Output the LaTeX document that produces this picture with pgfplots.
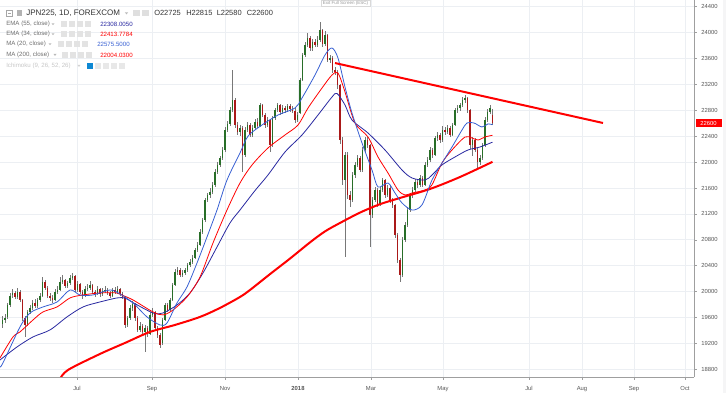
\documentclass[border=0pt]{standalone}
\usepackage{pgfplots}
\pgfplotsset{compat=1.18}
\usepackage{pgfplotstable}
\usepackage{fontspec}
\setmainfont{Liberation Sans}

\definecolor{upc}{RGB}{40,110,40}
\definecolor{dnc}{RGB}{170,25,25}
\definecolor{wickc}{RGB}{120,120,120}
\definecolor{ma20c}{RGB}{55,95,210}
\definecolor{ema55c}{RGB}{40,40,160}
\definecolor{redl}{RGB}{255,0,0}
\definecolor{gridc}{RGB}{236,239,243}
\definecolor{tickc}{RGB}{85,85,85}
\definecolor{txtc}{RGB}{51,51,51}
\definecolor{lblc}{RGB}{110,110,110}
\newcommand\tickfont{\fontsize{4.4}{5}\selectfont}
\newcommand\legfont{\fontsize{4.6}{5.5}\selectfont}
\newcommand\titfont{\fontsize{6}{7}\selectfont}

% x = bar position along the time scale, o h l c = open high low close
\pgfplotstableread{
x o h l c
2.5 19500 19620 19440 19560
5 19560 19660 19520 19590
7.5 19600 19830 19580 19790
10 19790 19980 19760 19930
12.5 19940 20040 19900 19980
15 19980 20010 19880 19920
17.5 19920 20060 19890 20000
20 20000 20020 19840 19870
22.5 19870 19890 19550 19590
25 19590 19620 19300 19490
27.5 19500 19720 19470 19690
30 19690 19800 19650 19750
32.5 19750 19870 19720 19830
35 19830 19880 19740 19780
37.5 19780 19900 19750 19870
40 19870 19980 19840 19930
42.5 19930 20230 19910 20150
45 20150 20180 20020 20060
47.5 20060 20090 19900 19930
50 19930 19980 19850 19900
52.5 19900 19940 19830 19870
55 19870 20040 19850 20000
57.5 20000 20080 19970 20030
60 20030 20220 20010 20150
62.5 20150 20250 20120 20180
65 20180 20200 20060 20090
67.5 20090 20170 20050 20130
70 20130 20250 20100 20210
72.5 20210 20290 20180 20240
75 20240 20260 20000 20030
77.5 20030 20160 20000 20120
80 20120 20140 19960 20000
82.5 20000 20030 19880 19930
85 19930 20080 19910 20040
87.5 20040 20110 20010 20060
90 20060 20160 20030 20100
92.5 20100 20120 19970 20000
95 20000 20030 19920 19960
97.5 19960 20080 19940 20040
100 20040 20060 19920 19960
102.5 19960 20050 19930 20010
105 20010 20080 19980 20030
107.5 20030 20060 19950 19980
110 19980 20010 19900 19930
112.5 19930 20060 19910 20030
115 20030 20070 19970 20000
117.5 20000 20080 19970 20040
120 20040 20060 19930 19960
122.5 19960 19990 19880 19920
125 19920 19930 19440 19490
127.5 19490 19630 19450 19590
130 19590 19790 19560 19750
132.5 19750 19850 19700 19810
135 19810 19830 19550 19590
137.5 19590 19620 19370 19410
140 19410 19530 19380 19470
142.5 19470 19500 19330 19380
145 19380 19490 19070 19440
147.5 19440 19470 19300 19350
150 19350 19680 19330 19640
152.5 19640 19740 19600 19690
155 19690 19700 19400 19440
157.5 19440 19470 19280 19330
160 19330 19360 19130 19180
162.5 19200 19590 19180 19560
165 19560 19820 19540 19790
167.5 19790 19830 19680 19720
170 19720 19900 19700 19870
172.5 19870 20130 19850 20100
175 20100 20350 20080 20300
177.5 20300 20380 20250 20330
180 20330 20360 20220 20260
182.5 20260 20340 20230 20290
185 20290 20370 20260 20330
187.5 20330 20440 20300 20410
190 20410 20500 20380 20460
192.5 20460 20560 20430 20520
195 20520 20680 20500 20640
197.5 20640 20760 20610 20720
200 20720 20960 20700 20920
202.5 20920 21140 20890 21100
205 21100 21450 21080 21410
207.5 21410 21530 21380 21490
210 21490 21600 21450 21540
212.5 21540 21700 21500 21650
215 21650 21900 21620 21850
217.5 21850 22000 21820 21960
220 21960 22100 21920 22060
222.5 22060 22230 22030 22190
225 22190 22540 22160 22500
227.5 22500 22640 22460 22590
230 22590 22850 22560 22800
232.5 22800 23420 22780 22960
235 22960 22990 22520 22570
237.5 22570 22620 22420 22470
240 22470 22580 22400 22530
242.5 22530 22560 21850 22110
245 22110 22540 22080 22500
247.5 22500 22620 22460 22570
250 22570 22600 22380 22420
252.5 22420 22570 22390 22530
255 22530 22660 22500 22620
257.5 22620 22680 22520 22560
260 22560 22920 22540 22880
262.5 22880 22900 22690 22730
265 22730 22760 22530 22570
267.5 22570 22700 22540 22650
270 22650 22670 22150 22260
272.5 22260 22710 22240 22680
275 22680 22840 22650 22800
277.5 22800 22920 22770 22880
280 22880 22900 22730 22770
282.5 22770 22880 22740 22840
285 22840 22870 22760 22800
287.5 22800 22900 22770 22870
290 22870 22900 22780 22820
292.5 22820 22860 22760 22790
295 22790 22830 22600 22650
297.5 22650 22770 22620 22730
300 22760 23300 22740 23270
302.5 23270 23690 23250 23650
305 23650 23850 23620 23810
307.5 23810 24000 23780 23920
310 23920 23950 23720 23760
312.5 23760 23900 23720 23860
315 23860 23900 23770 23810
317.5 23810 23940 23780 23890
320 23890 24160 23860 24040
322.5 24040 24060 23780 23820
325 23820 24020 23790 23960
327.5 23960 23980 23540 23580
330 23580 23660 23530 23610
332.5 23610 23640 23380 23420
335 23420 23470 23340 23390
337.5 23390 23420 23130 23190
340 23190 23200 22280 22340
342.5 22340 22380 21650 21720
345 21720 22160 20530 22110
347.5 22110 22150 21430 21490
350 21490 21560 21300 21410
352.5 21410 21840 21380 21800
355 21800 22000 21760 21960
357.5 21960 22110 21920 22060
360 22060 22090 21840 21880
362.5 21880 22230 21850 22190
365 22190 22390 22160 22340
367.5 22340 22380 22220 22260
370 22260 22280 20690 21180
372.5 21180 21460 21140 21410
375 21410 21610 21380 21570
377.5 21570 21600 21300 21340
380 21340 21610 21320 21570
382.5 21570 21760 21540 21720
385 21720 21740 21450 21490
387.5 21490 21640 21460 21600
390 21600 21630 21370 21410
392.5 21410 21440 21290 21340
395 21340 21360 20830 20870
397.5 20870 20900 20440 20490
400 20490 20520 20150 20260
402.5 20260 20840 20230 20800
405 20800 21080 20770 21030
407.5 21030 21300 21000 21260
410 21260 21530 21230 21490
412.5 21490 21620 21450 21570
415 21570 21740 21540 21690
417.5 21690 21730 21600 21650
420 21650 21800 21620 21760
422.5 21760 21790 21610 21650
425 21650 22000 21630 21960
427.5 21960 22080 21920 22030
430 22030 22230 22000 22190
432.5 22190 22220 22070 22110
435 22110 22410 22090 22370
437.5 22370 22470 22330 22420
440 22420 22450 22300 22340
442.5 22340 22550 22310 22500
445 22500 22540 22420 22460
447.5 22460 22580 22430 22530
450 22530 22560 22380 22420
452.5 22420 22610 22400 22570
455 22570 22840 22550 22800
457.5 22800 22880 22760 22830
460 22830 22920 22790 22880
462.5 22880 23000 22850 22960
465 22960 23040 22920 22990
467.5 22990 23010 22760 22800
470 22800 22820 22200 22260
472.5 22260 22380 22100 22340
475 22340 22370 22150 22190
477.5 22190 22220 21910 22000
480 22000 22110 21950 22060
482.5 22060 22300 22030 22260
485 22260 22690 22230 22650
487.5 22650 22820 22620 22770
490 22770 22880 22740 22840
492.5 22725 22815 22580 22600
}\candles

\begin{document}
\begin{tikzpicture}
\useasboundingbox (0,0) rectangle (544.5pt,294.75pt);
\begin{axis}[
  at={(0pt,12pt)}, anchor=south west, scale only axis,
  width=520.5pt, height=282.75pt,
  xmin=0, xmax=694, ymin=18681, ymax=24503.5,
  axis x line=bottom, axis y line=right,
  axis line style={-, draw=gray!75, line width=0.5pt},
  xtick={77,152,225,298,371,443,529,582,634,685},
  xticklabels={Jul,Sep,Nov,\textbf{2018},Mar,May,Jul,Aug,Sep,Oct},
  ytick={18800,19200,19600,20000,20400,20800,21200,21600,22000,22400,22800,23200,23600,24000,24400},
  grid=major, major grid style={gridc, line width=0.5pt},
  tick align=outside, major tick length=2pt,
  tick style={gray!75, line width=0.4pt},
  ticklabel style={font=\tickfont, text=tickc},
  scaled y ticks=false,
  yticklabel style={/pgf/number format/1000 sep={}, /pgf/number format/assume math mode=true},
  xticklabel style={yshift=-1.5pt},
  clip=true,
]
% wicks
\addplot[draw=none, mark=none, forget plot,
  error bars/.cd, y dir=both, y explicit, error mark=none,
  error bar style={draw=wickc, solid, line width=0.6pt}]
  table[x=x, y expr={(\thisrow{h}+\thisrow{l})/2}, y error expr={(\thisrow{h}-\thisrow{l})/2}] {\candles};
% up bodies
\addplot[draw=none, mark=none, forget plot,
  error bars/.cd, y dir=both, y explicit, error mark=none,
  error bar style={draw=upc, solid, line width=1.3pt}]
  table[x=x, y expr={(\thisrow{o}+\thisrow{c})/2}, y error expr={max(\thisrow{c}-\thisrow{o},0)/2}] {\candles};
% down bodies
\addplot[draw=none, mark=none, forget plot,
  error bars/.cd, y dir=both, y explicit, error mark=none,
  error bar style={draw=dnc, solid, line width=1.3pt}]
  table[x=x, y expr={(\thisrow{o}+\thisrow{c})/2}, y error expr={max(\thisrow{o}-\thisrow{c},0)/2}] {\candles};

% MA 200
\addplot[redl, line width=1.5pt, smooth, tension=0.5] coordinates {
(60,18650) (68,18790) (100,19037) (125,19207) (150,19377) (175,19485) (200,19609) (220,19748) (240,19917) (250,20025) (270,20270) (290,20510) (310,20760) (325,20930) (340,21060) (360,21220) (380,21350) (400,21446) (430,21585) (460,21770) (492.5,22004)};
% EMA 55
\addplot[ema55c, line width=0.6pt, smooth, tension=0.5] coordinates {
(0,18944) (17,19145) (33,19300) (50,19408) (67,19609) (83,19763) (100,19840) (117,19902) (125,19900) (133,19830) (153,19670) (163,19670) (177,19794) (190,19979) (203,20288) (217,20689) (230,21060) (240,21260) (255,21560) (268,21801) (285,22156) (302,22419) (318,22727) (332,23005) (337,23060) (345,22882) (352,22650) (368,22449) (385,22187) (402,21878) (412,21755) (425,21723) (432,21800) (442,21956) (455,22079) (468,22187) (480,22233) (492.5,22308)};
% EMA 34
\addplot[redl, line width=0.6pt, smooth, tension=0.5] coordinates {
(0,18975) (13,19300) (20,19377) (33,19562) (43,19686) (57,19763) (70,19902) (83,19948) (100,19979) (117,19979) (123,19940) (133,19871) (153,19686) (163,19640) (173,19716) (187,19917) (200,20226) (213,20751) (227,21260) (240,21677) (252,21955) (268,22218) (285,22419) (298,22573) (308,22835) (322,23144) (332,23345) (338,23376) (345,23083) (355,22604) (368,22388) (378,22079) (388,21832) (398,21569) (405,21492) (412,21523) (425,21569) (432,21650) (442,21986) (452,22187) (465,22388) (472,22372) (478,22341) (485,22388) (492.5,22414)};
% MA 20
\addplot[ma20c, line width=0.6pt, smooth, tension=0.5] coordinates {
(0,18837) (3,18900) (20,19454) (30,19670) (43,19763) (57,19840) (70,20025) (80,19948) (93,19948) (110,20025) (120,19964) (133,19825) (147,19609) (160,19485) (167,19516) (177,19825) (187,20072) (197,20442) (207,20844) (217,21260) (227,21723) (240,22141) (248,22400) (262,22573) (278,22727) (295,22835) (302,22990) (315,23345) (325,23654) (332,23762) (338,23607) (345,23160) (352,22758) (362,22295) (372,21878) (378,21616) (388,21677) (395,21523) (402,21369) (412,21260) (422,21340) (432,21723) (442,21986) (452,22233) (462,22496) (467,22604) (474,22604) (482,22542) (488,22590) (492.5,22576)};
% trend line
\addplot[redl, line width=1.5pt] coordinates {(335,23530) (603,22604)};
\end{axis}

\begin{scope}[x=0.75pt, y=-0.75pt, shift={(0pt,294.75pt)}]
  \fill[gridc!70!gray!20] (722.5,0) rectangle (726,393);
  % price label
  \node[fill=redl, text=white, font=\tickfont, inner sep=0pt, minimum width=19.5pt, minimum height=6.3pt] at (708.5,123.3) {22600};
  % exit full screen
  \node[draw=gray!30, fill=white, font=\fontsize{3.4}{4}\selectfont, text=gray!80, inner xsep=1.2pt, inner ysep=0.6pt, anchor=north] at (345.5,0) {Exit Full Screen (ESC)};
  % title line
  \draw[gray!70, line width=0.4pt] (6.5,10) rectangle (12.5,16.5);
  \draw[gray!70, line width=0.4pt] (8,13.25) -- (11,13.25);
  \fill[gray!60] (17,10.5) rectangle (21.5,16);
  \node[anchor=west, inner sep=0pt, font=\titfont, text=txtc] at (26,13.3) {JPN225, 1D, FOREXCOM};
  \fill[gray!55] (124.8,12.3) -- (128.2,12.3) -- (126.5,14.4) -- cycle;
  \fill[gray!25] (133,10) rectangle (140,16.5);
  \fill[gray!25] (141.5,10) rectangle (148.5,16.5);
  \node[anchor=west, inner sep=0pt, font=\fontsize{5.6}{6.5}\selectfont, text=txtc] at (154,13.3) {O22725};
  \node[anchor=west, inner sep=0pt, font=\fontsize{5.6}{6.5}\selectfont, text=txtc] at (186,13.3) {H22815};
  \node[anchor=west, inner sep=0pt, font=\fontsize{5.6}{6.5}\selectfont, text=txtc] at (216.5,13.3) {L22580};
  \node[anchor=west, inner sep=0pt, font=\fontsize{5.6}{6.5}\selectfont, text=txtc] at (246.5,13.3) {C22600};
  % indicator lines
  \node[anchor=west, inner sep=0pt, font=\legfont, text=lblc] at (6,24.3) {EMA (55, close)};
  \fill[gray!55] (51.5,23.3) -- (54.5,23.3) -- (53,25.2) -- cycle;
  \foreach \xx in {61,69,77,85} \fill[gray!22] (\xx,21.3) rectangle (\xx+6.3,27.5);
  \node[anchor=west, inner sep=0pt, font=\legfont, text=ema55c] at (100,24.3) {22308.0050};

  \node[anchor=west, inner sep=0pt, font=\legfont, text=lblc] at (6,34.3) {EMA (34, close)};
  \fill[gray!55] (51.5,33.3) -- (54.5,33.3) -- (53,35.2) -- cycle;
  \foreach \xx in {61,69,77,85} \fill[gray!22] (\xx,31.3) rectangle (\xx+6.3,37.5);
  \node[anchor=west, inner sep=0pt, font=\legfont, text=redl] at (100,34.3) {22413.7784};

  \node[anchor=west, inner sep=0pt, font=\legfont, text=lblc] at (6,44.3) {MA (20, close)};
  \fill[gray!55] (48.5,43.3) -- (51.5,43.3) -- (50,45.2) -- cycle;
  \foreach \xx in {58,66,74,82} \fill[gray!22] (\xx,41.3) rectangle (\xx+6.3,47.5);
  \node[anchor=west, inner sep=0pt, font=\legfont, text=ma20c] at (97,44.3) {22575.5000};

  \node[anchor=west, inner sep=0pt, font=\legfont, text=lblc] at (6,55) {MA (200, close)};
  \fill[gray!55] (53.5,54) -- (56.5,54) -- (55,55.9) -- cycle;
  \foreach \xx in {62,70,78,86} \fill[gray!22] (\xx,52) rectangle (\xx+6.3,58.2);
  \node[anchor=west, inner sep=0pt, font=\legfont, text=redl] at (100,55) {22004.0300};

  \node[anchor=west, inner sep=0pt, font=\legfont, text=gray!45] at (6,66) {Ichimoku (9, 26, 52, 26)};
  \fill[gray!35] (77.5,65) -- (80.5,65) -- (79,66.9) -- cycle;
  \fill[cyan!70!blue] (87,63) rectangle (93.3,69.2);
  \foreach \xx in {95,103,111,119} \fill[gray!18] (\xx,63) rectangle (\xx+6.3,69.2);
\end{scope}
\end{tikzpicture}
\end{document}
